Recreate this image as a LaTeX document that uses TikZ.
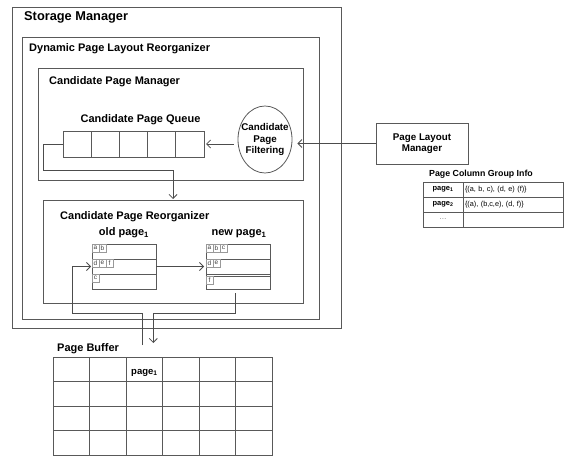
\documentclass[tikz,border=0pt]{standalone}
\usepackage{fontspec}
\setmainfont{Liberation Sans}
\usetikzlibrary{arrows.meta,positioning,shapes.geometric}

\begin{document}
\begin{tikzpicture}[
  x=1pt, y=-1pt,
  frame/.style={draw=black!65, line width=0.8pt, anchor=north west,
                inner sep=0pt, outer sep=0pt},
  head/.style={anchor=base west, inner sep=0pt,
               font=\bfseries\fontsize{11}{12}\selectfont},
  qcell/.style={frame, minimum width=28.2pt, minimum height=26pt},
  slot/.style={frame, minimum width=64pt, minimum height=15pt},
  tag/.style={draw=black!40, line width=0.5pt, anchor=north west,
              inner sep=0pt, outer sep=0pt, minimum width=7pt,
              minimum height=8.5pt, text=black!75,
              font=\fontsize{6.5}{6.5}\selectfont},
  bcell/.style={frame, minimum width=36.5pt, minimum height=24.5pt},
  tcell/.style={frame, minimum height=15pt, font=\fontsize{7.3}{8}\selectfont},
  ar/.style={-{Straight Barb[length=4pt,width=8pt]}, draw=black!70,
             line width=0.8pt},
  ln/.style={draw=black!65, line width=0.8pt}
]
\useasboundingbox (0,0) rectangle (565,457);

\node[frame, minimum width=329pt, minimum height=321pt] (storage) at (12,7) {};
\node[head, font=\bfseries\fontsize{12.8}{14}\selectfont] (storagettl)
  at (24,21) {Storage Manager};

\node[frame, minimum width=297pt, minimum height=282pt] (dplr) at (22,37) {};
\node[head] (dplrttl) at (29,52) {Dynamic Page Layout Reorganizer};

\node[frame, minimum width=265pt, minimum height=112pt] (cpm) at (38,68) {};
\node[head] (cpmttl) at (49,85) {Candidate Page Manager};

\foreach \i in {1,...,5}
  \node[qcell] (q\i) at ({63+28.2*(\i-1)},131) {};
\node[head, anchor=base] (qttl) at (140.5,123) {Candidate Page Queue};

\node[draw=black!65, line width=0.8pt, ellipse, inner sep=0pt,
      minimum width=54pt, minimum height=67pt] (filter) at (265,139.5) {};
\node[align=center, inner sep=0pt,
      font=\bfseries\fontsize{9.8}{11.5}\selectfont] (filterttl)
  at (filter) {Candidate\\Page\\Filtering};

\node[frame, minimum width=92pt, minimum height=41pt, align=center,
      font=\bfseries\fontsize{9.8}{11.5}\selectfont] (plm)
  at (376,123) {Page Layout\\Manager};

\node[head, font=\bfseries\fontsize{8.8}{10}\selectfont] (pcgttl)
  at (429,177) {Page Column Group Info};
\node[tcell, minimum width=40pt, font=\bfseries\fontsize{7.5}{8}\selectfont] (k1)
  at (423,182) {page\textsubscript{1}};
\node[tcell, text width=96pt, inner xsep=2pt, align=left] (v1)
  at (463,182) {\{(a, b, c), (d, e) (f)\}};
\node[tcell, minimum width=40pt, font=\bfseries\fontsize{7.5}{8}\selectfont] (k2)
  at (423,197) {page\textsubscript{2}};
\node[tcell, text width=96pt, inner xsep=2pt, align=left] (v2)
  at (463,197) {\{(a), (b,c,e), (d, f)\}};
\node[tcell, minimum width=40pt, text=black!60] (k3) at (423,212) {\dots};
\node[tcell, text width=96pt, inner xsep=2pt] (v3) at (463,212) {};

\node[frame, minimum width=260pt, minimum height=103pt] (reorg) at (43,200) {};
\node[head] (reorgttl) at (60,220) {Candidate Page Reorganizer};

\node[head, anchor=base] (oldttl) at (124,236) {old page\textsubscript{1}};
\node[slot] (old1) at (92,244) {};
\node[slot, below=0pt of old1] (old2) {};
\node[slot, below=0pt of old2] (old3) {};

\node[head, anchor=base] (newttl) at (239,236) {new page\textsubscript{1}};
\node[slot] (new1) at (206,244) {};
\node[slot, below=0pt of new1] (new2) {};
\node[slot, below=0pt of new2] (new3) {};
\draw[ln] ([yshift=-2pt]new3.north west) -- ([yshift=-2pt]new3.north east);

\foreach \row/\letters in {old1/{a,b}, old2/{d,e,f}, old3/{c},
                           new1/{a,b,c}, new2/{d,e}}
  \foreach \l [count=\i] in \letters
    \node[tag] (\row\l) at ([xshift={7*(\i-1)*1pt}]\row.north west) {\l};
\node[tag] (new3f) at ([yshift=-2pt]new3.north west) {f};

\node[head] (bufttl) at (57,351) {Page Buffer};
\foreach \r in {1,...,4}
  \foreach \c in {1,...,6}
    \node[bcell] (b\r\c) at ({53+36.5*(\c-1)},{357+24.5*(\r-1)}) {};
\node[head, font=\bfseries\fontsize{9.5}{10}\selectfont] (bufpage)
  at (131,374) {page\textsubscript{1}};

\coordinate (lane) at ([yshift=-10pt]reorg.south);
\coordinate (ldpt) at ([xshift=-2pt,yshift=12pt]b13.north);
\coordinate (stpt) at ([xshift=9pt,yshift=14pt]b13.north);

\draw[ar, shorten >=5pt] (plm.west) -- (plm.west -| filter.east);
\draw[ar, shorten <=4pt, shorten >=2pt] (filter.west |- q5.east) -- (q5.east);
\draw[ar, shorten >=1pt] (q1.west) -- ++(-20,0) |- ([yshift=30pt]reorg.north)
  -- (reorg.north);
\draw[ar, shorten >=2pt] (old2.east) -- (new2.west);
\draw[ar, shorten >=1pt] (ldpt) -- (ldpt |- lane) -| ([xshift=-20pt]old2.west)
  -- (old2.west);
\draw[ar] ([xshift=-3pt,yshift=-4pt]new3.south) |- (lane -| stpt) -- (stpt);

\end{tikzpicture}
\end{document}
